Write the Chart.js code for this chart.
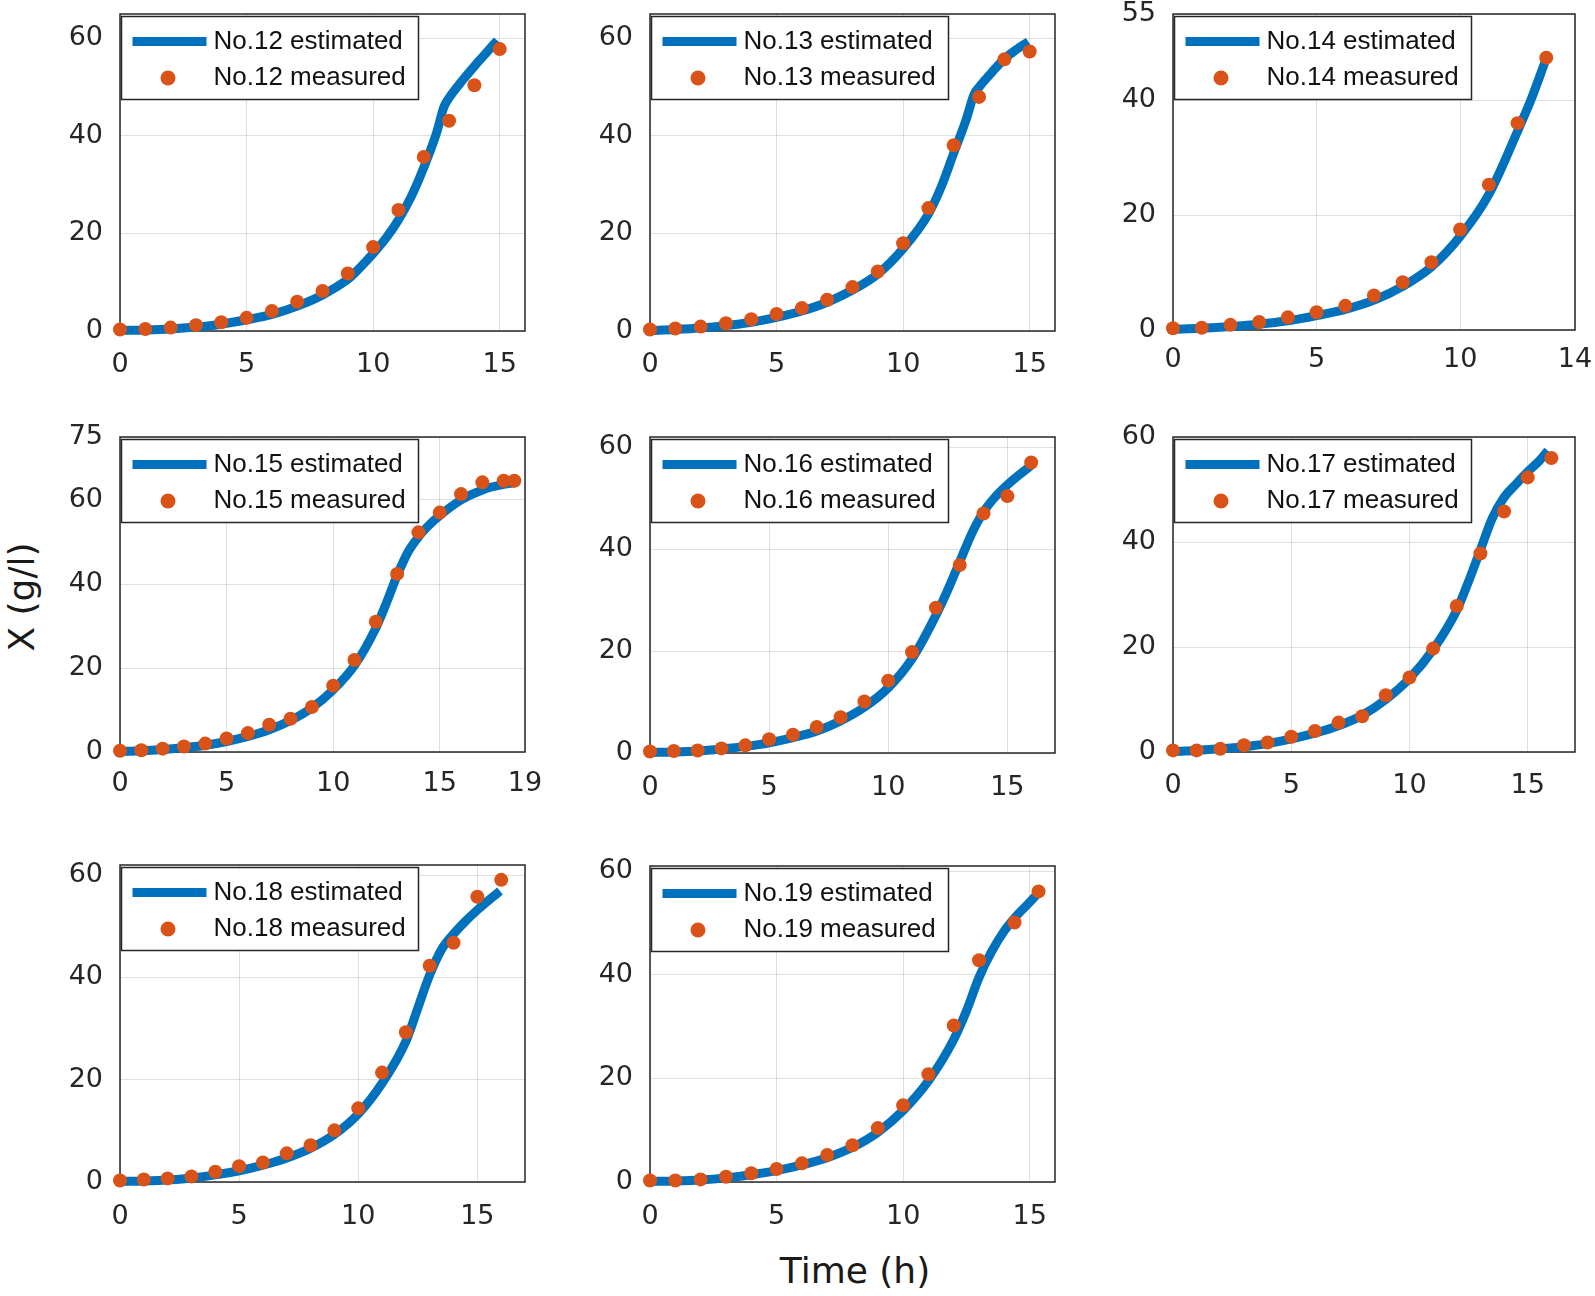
<!DOCTYPE html>
<html><head><meta charset="utf-8">
<script src="https://cdn.jsdelivr.net/npm/chart.js@4.4.1/dist/chart.umd.min.js"></script>
<style>
html,body{margin:0;padding:0;background:#fff;overflow:hidden;}
#wrap{position:relative;width:1595px;height:1296px;overflow:hidden;background:#fff;}
#wrap canvas{position:absolute;}
.axt{position:absolute;font-family:"DejaVu Sans";font-size:36px;line-height:1;color:#1a1a1a;white-space:nowrap;}
</style></head><body>
<div id="wrap">
<div class="axt" style="left:22px;top:597px;transform:translate(-50%,-50%) rotate(-90deg);">X (g/l)</div>
<div class="axt" style="left:855px;top:1271px;transform:translate(-50%,-50%);">Time (h)</div>
</div>
<script>
// ---------------- data ----------------
const measTime12 = [0,1,2,3,4,5,6,7,8,9,10,11,12,13,14,15];
const measX12    = [0.3,0.4,0.7,1.2,1.8,2.7,4.1,6.0,8.2,11.8,17.2,24.8,35.7,43.1,50.4,57.8];
const estTime12  = [0,1,2,3,4,5,6,7,8,9,9.5,10,10.5,11,11.5,12,12.5,12.8,13,13.5,14,14.5,14.9];
const estX12     = [0.1,0.2,0.4,0.8,1.4,2.3,3.4,5.1,7.4,10.6,13.1,15.9,19.0,22.8,27.5,33.5,40.5,46.0,47.8,51.2,54.3,57.2,59.6];

const measTime13 = [0,1,2,3,4,5,6,7,8,9,10,11,12,13,14,15];
const measX13    = [0.3,0.5,0.9,1.6,2.4,3.5,4.7,6.4,9.0,12.2,18.0,25.2,38.1,48.0,55.7,57.3];
const estTime13  = [0,1,2,3,4,5,6,7,8,9,10,11,11.5,12,12.5,12.8,13,13.5,14,14.5,14.95];
const estX13     = [0.1,0.3,0.6,1.1,1.8,2.8,4.1,5.9,8.4,11.7,16.9,24.0,29.5,36.5,43.5,48.5,50.0,53.0,55.8,57.8,59.3];

const measTime14 = [0,1,2,3,4,5,6,7,8,9,10,11,12,13];
const measX14    = [0.3,0.4,0.9,1.4,2.2,3.1,4.2,6.0,8.3,11.8,17.5,25.3,36.0,47.4];
const estTime14  = [0,1,2,3,4,5,6,7,8,9,10,11,12,12.5,12.95];
const estX14     = [0.1,0.3,0.6,1.0,1.6,2.5,3.6,5.2,7.6,11.0,16.3,23.6,34.6,40.5,46.6];

const measTime15 = [0,1,2,3,4,5,6,7,8,9,10,11,12,13,14,15,16,17,18,18.5];
const measX15    = [0.3,0.4,0.8,1.3,2.0,3.2,4.5,6.5,7.9,10.7,15.8,21.9,31.0,42.4,52.3,57.0,61.4,64.2,64.6,64.6];
const estTime15  = [0,1,2,3,4,5,6,7,8,9,10,11,12,12.5,13,13.5,14,14.5,15,16,17,18,18.5];
const estX15     = [0.1,0.3,0.6,1.0,1.6,2.5,3.7,5.3,7.5,10.5,14.8,20.6,29.5,35.5,42.0,47.5,51.2,54.0,56.3,60.0,62.4,63.7,64.1];

const measTime16 = [0,1,2,3,4,5,6,7,8,9,10,11,12,13,14,15,16];
const measX16    = [0.3,0.4,0.5,0.9,1.5,2.7,3.6,5.1,7.0,10.1,14.2,19.8,28.5,36.9,47.0,50.4,57.0];
const estTime16  = [0,1,2,3,4,5,6,7,8,9,10,11,12,12.5,13,13.5,14,14.5,15,15.5,16];
const estX16     = [0.1,0.2,0.4,0.8,1.3,2.0,3.0,4.3,6.3,9.0,12.8,18.5,27.0,32.0,37.5,43.0,47.3,50.3,52.6,54.6,56.4];

const measTime17 = [0,1,2,3,4,5,6,7,8,9,10,11,12,13,14,15,16];
const measX17    = [0.3,0.3,0.6,1.3,1.8,2.9,4.0,5.6,6.8,10.8,14.2,19.7,27.8,37.8,45.8,52.3,56.0];
const estTime17  = [0,1,2,3,4,5,6,7,8,9,10,11,12,12.5,13,13.5,14,14.5,15,15.5,15.85];
const estX17     = [0.1,0.3,0.6,1.0,1.6,2.5,3.6,5.0,7.0,10.0,14.0,19.5,27.0,32.5,38.5,44.5,48.5,51.0,53.4,55.5,57.4];

const measTime18 = [0,1,2,3,4,5,6,7,8,9,10,11,12,13,14,15,16];
const measX18    = [0.3,0.5,0.7,1.1,2.0,3.1,3.8,5.6,7.2,10.1,14.4,21.4,29.3,42.3,46.8,55.8,59.1];
const estTime18  = [0,1,2,3,4,5,6,7,8,9,10,11,12,12.5,13,13.5,14,14.5,15,15.5,15.95];
const estX18     = [0.1,0.2,0.4,0.8,1.4,2.2,3.3,4.7,6.6,9.3,13.3,19.3,27.5,34.0,40.5,45.5,48.5,51.0,53.2,55.2,56.9];

const measTime19 = [0,1,2,3,4,5,6,7,8,9,10,11,12,13,14.4,15.35];
const measX19    = [0.3,0.3,0.5,1.0,1.7,2.5,3.6,5.2,7.1,10.4,14.8,20.8,30.2,42.8,50.1,56.1];
const estTime19  = [0,1,2,3,4,5,6,7,8,9,10,11,12,12.5,13,13.5,14,14.5,15,15.3];
const estX19     = [0.1,0.2,0.4,0.8,1.4,2.2,3.3,4.7,6.7,9.6,13.8,19.5,27.5,33.0,39.5,44.5,48.5,51.5,54.0,55.6];

// tick labels
const xTicks12 = [0,5,10,15];      const yTicks12 = [0,20,40,60];
const xTicks13 = [0,5,10,15];      const yTicks13 = [0,20,40,60];
const xTicks14 = [0,5,10,14];      const yTicks14 = [0,20,40,55];
const xTicks15 = [0,5,10,15,19];   const yTicks15 = [0,20,40,60,75];
const xTicks16 = [0,5,10,15];      const yTicks16 = [0,20,40,60];
const xTicks17 = [0,5,10,15];      const yTicks17 = [0,20,40,60];
const xTicks18 = [0,5,10,15];      const yTicks18 = [0,20,40,60];
const xTicks19 = [0,5,10,15];      const yTicks19 = [0,20,40,60];

// axis limits
const xLim = {12:16, 13:16, 14:14, 15:19, 16:17, 17:17, 18:17, 19:16};
const yLim = {12:65, 13:65, 14:55, 15:75, 16:62, 17:60, 18:62, 19:61};

// ---------------- layout / style ----------------
const BLUE = '#0072BD', ORANGE = '#D95319', AXIS = '#262626', GRID = 'rgba(38,38,38,0.15)';
const PADL = 110, PADT = 40, PADR = 45, AXH = 70, TICKSIZE = 27;

const panels = [
  {n:12, mt:measTime12, mx:measX12, et:estTime12, ex:estX12, xt:xTicks12, yt:yTicks12, box:[120,14,525,331], xOff:34},
  {n:13, mt:measTime13, mx:measX13, et:estTime13, ex:estX13, xt:xTicks13, yt:yTicks13, box:[650,14,1055,331], xOff:34},
  {n:14, mt:measTime14, mx:measX14, et:estTime14, ex:estX14, xt:xTicks14, yt:yTicks14, box:[1173,14,1575,330], xOff:30},
  {n:15, mt:measTime15, mx:measX15, et:estTime15, ex:estX15, xt:xTicks15, yt:yTicks15, box:[120,437,525,752], xOff:32},
  {n:16, mt:measTime16, mx:measX16, et:estTime16, ex:estX16, xt:xTicks16, yt:yTicks16, box:[650,437,1055,753], xOff:35},
  {n:17, mt:measTime17, mx:measX17, et:estTime17, ex:estX17, xt:xTicks17, yt:yTicks17, box:[1173,437,1575,752], xOff:34},
  {n:18, mt:measTime18, mx:measX18, et:estTime18, ex:estX18, xt:xTicks18, yt:yTicks18, box:[120,865,525,1182], xOff:35},
  {n:19, mt:measTime19, mx:measX19, et:estTime19, ex:estX19, xt:xTicks19, yt:yTicks19, box:[650,866,1055,1182], xOff:35}
];

const framePlugin = {
  id: 'frameLegend',
  beforeDatasetsDraw(chart) {
    const {ctx, chartArea:{left, top, right, bottom}} = chart;
    ctx.save();
    ctx.strokeStyle = AXIS; ctx.lineWidth = 1.5;
    ctx.strokeRect(left, top, right - left, bottom - top);
    ctx.restore();
  },
  afterDatasetsDraw(chart) {
    const {ctx, chartArea:{left, top}} = chart;
    const ds = chart.data.datasets;
    const measLabel = ds[0].label, estLabel = ds[1].label;
    const lx = left + 1.5, ly = top + 2.5, lw = 297, lh = 83;
    ctx.save();
    ctx.fillStyle = '#fff'; ctx.fillRect(lx, ly, lw, lh);
    ctx.strokeStyle = AXIS; ctx.lineWidth = 1.5; ctx.strokeRect(lx, ly, lw, lh);
    ctx.strokeStyle = BLUE; ctx.lineWidth = 9; ctx.lineCap = 'butt';
    ctx.beginPath(); ctx.moveTo(lx + 11, ly + 25); ctx.lineTo(lx + 85, ly + 25); ctx.stroke();
    ctx.fillStyle = ORANGE; ctx.beginPath(); ctx.arc(lx + 46.5, ly + 61.5, 7.5, 0, Math.PI * 2); ctx.fill();
    ctx.fillStyle = '#111'; ctx.font = '26px "Liberation Sans", Arial, sans-serif';
    ctx.textBaseline = 'middle'; ctx.textAlign = 'left';
    ctx.fillText(estLabel, lx + 92, ly + 25.5);
    ctx.fillText(measLabel, lx + 92, ly + 61.5);
    ctx.restore();
  }
};

Chart.defaults.font.family = '"DejaVu Sans", sans-serif';
const wrap = document.getElementById('wrap');

panels.forEach(p => {
  const [L, T, R, B] = p.box;
  const W = PADL + (R - L) + PADR, H = PADT + (B - T) + AXH;
  const c = document.createElement('canvas');
  c.width = W; c.height = H;
  c.style.width = W + 'px'; c.style.height = H + 'px';
  c.style.left = (L - PADL) + 'px'; c.style.top = (T - PADT) + 'px';
  wrap.appendChild(c);
  const name = 'No.' + p.n;
  new Chart(c, {
    type: 'scatter',
    data: {datasets: [
      {label: name + ' measured', data: p.mt.map((t, i) => ({x: t, y: p.mx[i]})),
       showLine: false, pointRadius: 7, pointHoverRadius: 7, pointBackgroundColor: ORANGE,
       pointBorderWidth: 0, backgroundColor: ORANGE, borderColor: ORANGE, clip: false, order: 0},
      {label: name + ' estimated', data: p.et.map((t, i) => ({x: t, y: p.ex[i]})),
       showLine: true, pointRadius: 0, pointHoverRadius: 0, borderColor: BLUE, backgroundColor: BLUE,
       borderWidth: 9, borderJoinStyle: 'round', cubicInterpolationMode: 'monotone', fill: false, clip: false, order: 1}
    ]},
    options: {
      responsive: false, animation: false, devicePixelRatio: 1, events: [],
      layout: {padding: {left: 0, top: PADT, right: PADR, bottom: 0}},
      plugins: {legend: {display: false}, tooltip: {enabled: false}},
      scales: {
        x: {type: 'linear', position: 'bottom', min: 0, max: xLim[p.n],
            afterBuildTicks: s => { s.ticks = p.xt.map(v => ({value: v})); },
            afterFit: s => { s.height = AXH; },
            ticks: {autoSkip: false, maxRotation: 0, minRotation: 0, padding: p.xOff - 16,
                    color: AXIS, font: {size: TICKSIZE}},
            grid: {color: GRID, lineWidth: 1, drawTicks: false},
            border: {display: false}},
        y: {type: 'linear', position: 'left', min: 0, max: yLim[p.n],
            afterBuildTicks: s => { s.ticks = p.yt.map(v => ({value: v})); },
            afterFit: s => { s.width = PADL; },
            ticks: {autoSkip: false, padding: 17, color: AXIS, font: {size: TICKSIZE}},
            grid: {color: GRID, lineWidth: 1, drawTicks: false},
            border: {display: false}}
      }
    },
    plugins: [framePlugin]
  });
});
</script>
</body></html>
